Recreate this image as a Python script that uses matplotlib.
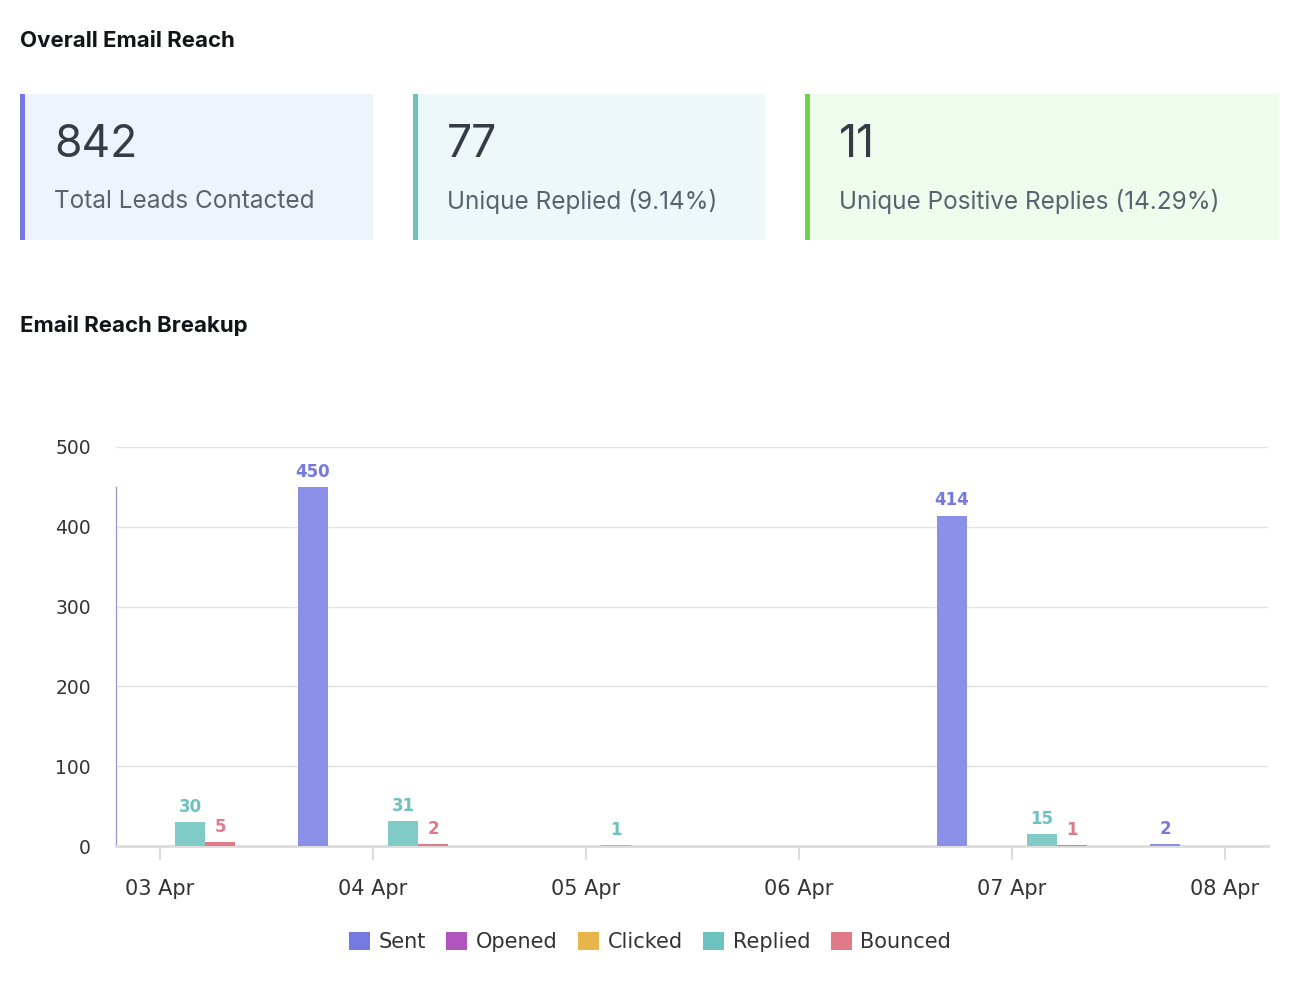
import matplotlib
matplotlib.use("Agg")
import matplotlib.pyplot as plt
from matplotlib.patches import Rectangle, Patch
import numpy as np

plt.rcParams['font.family'] = ['Inter', 'DejaVu Sans']

days = ["03 Apr", "04 Apr", "05 Apr", "06 Apr", "07 Apr", "08 Apr"]
series = ["Sent", "Opened", "Clicked", "Replied", "Bounced"]
sent = [0, 450, 0, 0, 414, 2]
opened = [0, 0, 0, 0, 0, 0]
clicked = [0, 0, 0, 0, 0, 0]
replied = [30, 31, 1, 0, 15, 0]
bounced = [5, 2, 0, 0, 1, 0]
values = [sent, opened, clicked, replied, bounced]
colors = ["#8a90e8", "#b055bd", "#e6b64a", "#80cac8", "#e07a88"]
label_colors = ["#7479e0", "#b055bd", "#e6b64a", "#6cc2bf", "#e07a88"]
legend_colors = ["#7479e0", "#b055bd", "#e6b64a", "#6cc2bf", "#e07a88"]
y_ticks = [0, 100, 200, 300, 400, 500]

cards = [("842", "Total Leads Contacted"),
         ("77", "Unique Replied (9.14%)"),
         ("11", "Unique Positive Replies (14.29%)")]
card_x = [(20, 373), (413, 765), (805, 1279)]
card_bg = ["#eff3fc", "#eef8f9", "#effbec"]
card_border = ["#7478e0", "#6cc2bf", "#6fd44a"]

W, H = 1308, 986
fig = plt.figure(figsize=(W / 100, H / 100), dpi=100)
fig.patch.set_facecolor("white")

def fx(px): return px / W
def fy(py): return 1 - py / H

fig.text(fx(20), fy(41), "Overall Email Reach", fontsize=16, fontweight="bold",
         color="#111418", va="center", ha="left")
fig.text(fx(20), fy(325), "Email Reach Breakup", fontsize=16, fontweight="bold",
         color="#111418", va="center", ha="left")

for (x0, x1), bg, bc, (num, lab) in zip(card_x, card_bg, card_border, cards):
    fig.patches.append(Rectangle((fx(x0), fy(240)), fx(x1 - x0), (240 - 94) / H,
                                 transform=fig.transFigure, facecolor=bg, edgecolor="none"))
    fig.patches.append(Rectangle((fx(x0), fy(240)), fx(5), (240 - 94) / H,
                                 transform=fig.transFigure, facecolor=bc, edgecolor="none"))
    fig.text(fx(x0 + 34), fy(145), num, fontsize=32, color="#363b47", va="center", ha="left")
    fig.text(fx(x0 + 34), fy(202), lab, fontsize=17.5, color="#5a6270", va="center", ha="left")

# chart axes
left, right, top, bottom = 116, 1268, 447, 846
ax = fig.add_axes([fx(left), fy(bottom), fx(right - left), (bottom - top) / H])
ax.set_ylim(0, 500)
day_px = 213.0
ax.set_xlim(-(160 - left) / day_px, (right - 160) / day_px)
w = 30 / day_px
x = np.arange(len(days))
for i, (vals, c, lc) in enumerate(zip(values, colors, label_colors)):
    pos = x + (i - 2) * w
    ax.bar(pos, vals, width=w, color=c, edgecolor="none", zorder=3)
    for p, v in zip(pos, vals):
        if v > 0:
            ax.text(p, v + 8, str(v), ha="center", va="bottom", fontsize=12,
                    fontweight="bold", color=lc, family="DejaVu Sans", zorder=4)

for sp in ["top", "right", "left"]:
    ax.spines[sp].set_visible(False)
ax.spines["bottom"].set_color("#dcdcdc")
ax.spines["bottom"].set_linewidth(2)
ax.plot([ax.get_xlim()[0]] * 2, [0, 450], color="#9a9cc8", lw=1, clip_on=False, zorder=2)
ax.set_yticks(y_ticks)
ax.set_yticklabels([str(t) for t in y_ticks], family="DejaVu Sans")
ax.tick_params(axis="y", length=0, pad=18, labelsize=13.5, labelcolor="#333333")
ax.grid(axis="y", color="#e3e3e3", lw=1, zorder=0)
ax.set_xticks(x)
ax.set_xticklabels(days, family="DejaVu Sans")
ax.tick_params(axis="x", length=10, width=1.5, color="#dcdcdc", pad=14,
               labelsize=15, labelcolor="#333333")

handles = [Patch(facecolor=c, edgecolor="none", label=s) for s, c in zip(series, legend_colors)]
leg = fig.legend(handles=handles, loc="center", bbox_to_anchor=(fx(650), fy(942)), ncol=5,
                 frameon=False, handlelength=1.0, handleheight=1.0,
                 handletextpad=0.4, columnspacing=1.0, prop={"family": "DejaVu Sans", "size": 15})
for t in leg.get_texts():
    t.set_color("#333333")

fig.savefig("out.png", dpi=100)
